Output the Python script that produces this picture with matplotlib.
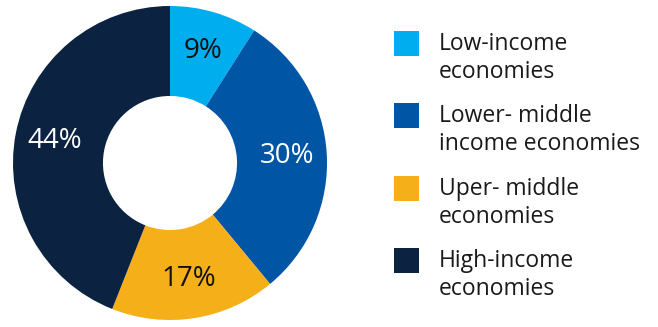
import matplotlib
matplotlib.use("Agg")
import matplotlib.pyplot as plt
from matplotlib.patches import Rectangle

plt.rcParams['font.family'] = ['Open Sans', 'DejaVu Sans']

categories = ["Low-income\neconomies", "Lower- middle\nincome economies",
              "Uper- middle\neconomies", "High-income\neconomies"]
values = [9, 30, 17, 44]
colors = ["#00AEEF", "#0055A5", "#F5AF19", "#0B2341"]
label_colors = ["#111111", "white", "#111111", "white"]

W, H = 658, 327
fig = plt.figure(figsize=(W / 100, H / 100), dpi=100)

cx, cy, R = 170, 163, 157
ax = fig.add_axes([(cx - R) / W, (H - cy - R) / H, 2 * R / W, 2 * R / H])
wedges, texts, autotexts = ax.pie(
    values, colors=colors, startangle=90, counterclock=False,
    radius=1.0, wedgeprops=dict(width=0.573, linewidth=0),
    autopct=lambda p: f"{p:.0f}%", pctdistance=0.745,
    textprops=dict(fontsize=20))
for t, c in zip(autotexts, label_colors):
    t.set_color(c)
ax.set_xlim(-1, 1)
ax.set_ylim(-1, 1)
ax.set_aspect('equal')
ax.axis('off')

# legend
sq_x, sq_size = 394, 25
tops = [31, 103, 176, 248]
for cat, col, top in zip(categories, colors, tops):
    fig.add_artist(Rectangle((sq_x / W, (H - top - sq_size) / H), sq_size / W, sq_size / H,
                             transform=fig.transFigure, facecolor=col, edgecolor='none'))
    for i, line in enumerate(cat.split("\n")):
        base = top + 19 + 28 * i
        fig.text(439 / W, (H - base) / H, line, fontsize=16.5, color="#1a1a1a",
                 ha='left', va='baseline')

fig.savefig("out.png", dpi=100)
